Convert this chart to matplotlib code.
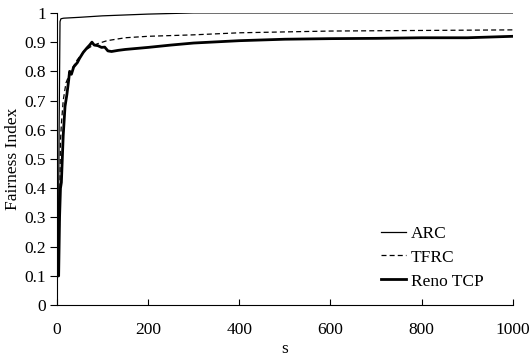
import numpy as np
import matplotlib
matplotlib.use("Agg")
import matplotlib.pyplot as plt

plt.rcParams['font.family'] = ['Liberation Serif', 'DejaVu Serif']

# values
arc_s = [0, 3, 5, 7, 9, 15, 50, 100, 200, 300, 1000]
arc_v = [0.10, 0.10, 0.60, 0.97, 0.98, 0.982, 0.985, 0.99, 0.996, 1.0, 1.0]

tfrc_s = [0, 4, 6, 8, 10, 14, 20, 30, 45, 60, 75, 90, 110, 150, 200, 300, 400, 500, 600, 800, 1000]
tfrc_v = [0.10, 0.10, 0.30, 0.56, 0.62, 0.70, 0.76, 0.80, 0.84, 0.87, 0.885, 0.895, 0.905, 0.915, 0.92, 0.925, 0.932, 0.935, 0.938, 0.94, 0.942]

reno_s = [0, 4, 6, 8, 10, 14, 18, 22, 26, 28, 32, 37, 45, 50, 58, 66, 72, 77, 82, 90, 98, 105, 112, 120, 135, 150, 200, 250, 300, 400, 500, 600, 700, 800, 900, 1000]
reno_v = [0.10, 0.10, 0.30, 0.40, 0.42, 0.58, 0.68, 0.72, 0.77, 0.80, 0.79, 0.815, 0.83, 0.845, 0.865, 0.88, 0.89, 0.90, 0.89, 0.888, 0.882, 0.883, 0.87, 0.868, 0.872, 0.875, 0.882, 0.89, 0.897, 0.905, 0.91, 0.912, 0.913, 0.915, 0.915, 0.92]

fig = plt.figure(figsize=(5.31, 3.59), dpi=100)
ax = fig.add_axes([0.107, 0.150, 0.859, 0.814])

ax.plot(arc_s, arc_v, color='black', lw=0.9, label='ARC')
ax.plot(tfrc_s, tfrc_v, color='black', lw=0.9, ls=(0, (4, 2.5)), label='TFRC')
ax.plot(reno_s, reno_v, color='black', lw=2.0, label='Reno TCP')

ax.set_xlim(0, 1000)
ax.set_ylim(0, 1)
ax.set_xticks(np.arange(0, 1001, 200))
ax.set_yticks(np.arange(0, 1.01, 0.1))
ax.set_yticklabels(['0', '0.1', '0.2', '0.3', '0.4', '0.5', '0.6', '0.7', '0.8', '0.9', '1'])

for side in ['top', 'right']:
    ax.spines[side].set_visible(False)
ax.spines['left'].set_linewidth(0.8)
ax.spines['bottom'].set_linewidth(0.8)
ax.tick_params(axis='y', direction='out', length=5, width=0.8, labelsize=12.5, pad=3)
ax.tick_params(axis='x', direction='in', length=4, width=0.8, labelsize=12.5, pad=12)

ax.set_xlabel('s', fontsize=12.5, labelpad=2)
ax.set_ylabel('Fairness Index', fontsize=12.5, labelpad=2)

ax.legend(loc='lower right', bbox_to_anchor=(0.97, 0.0), frameon=False, fontsize=12.5,
          handlelength=1.4, handletextpad=0.3, labelspacing=0.45)

fig.savefig('out.png', dpi=100)
